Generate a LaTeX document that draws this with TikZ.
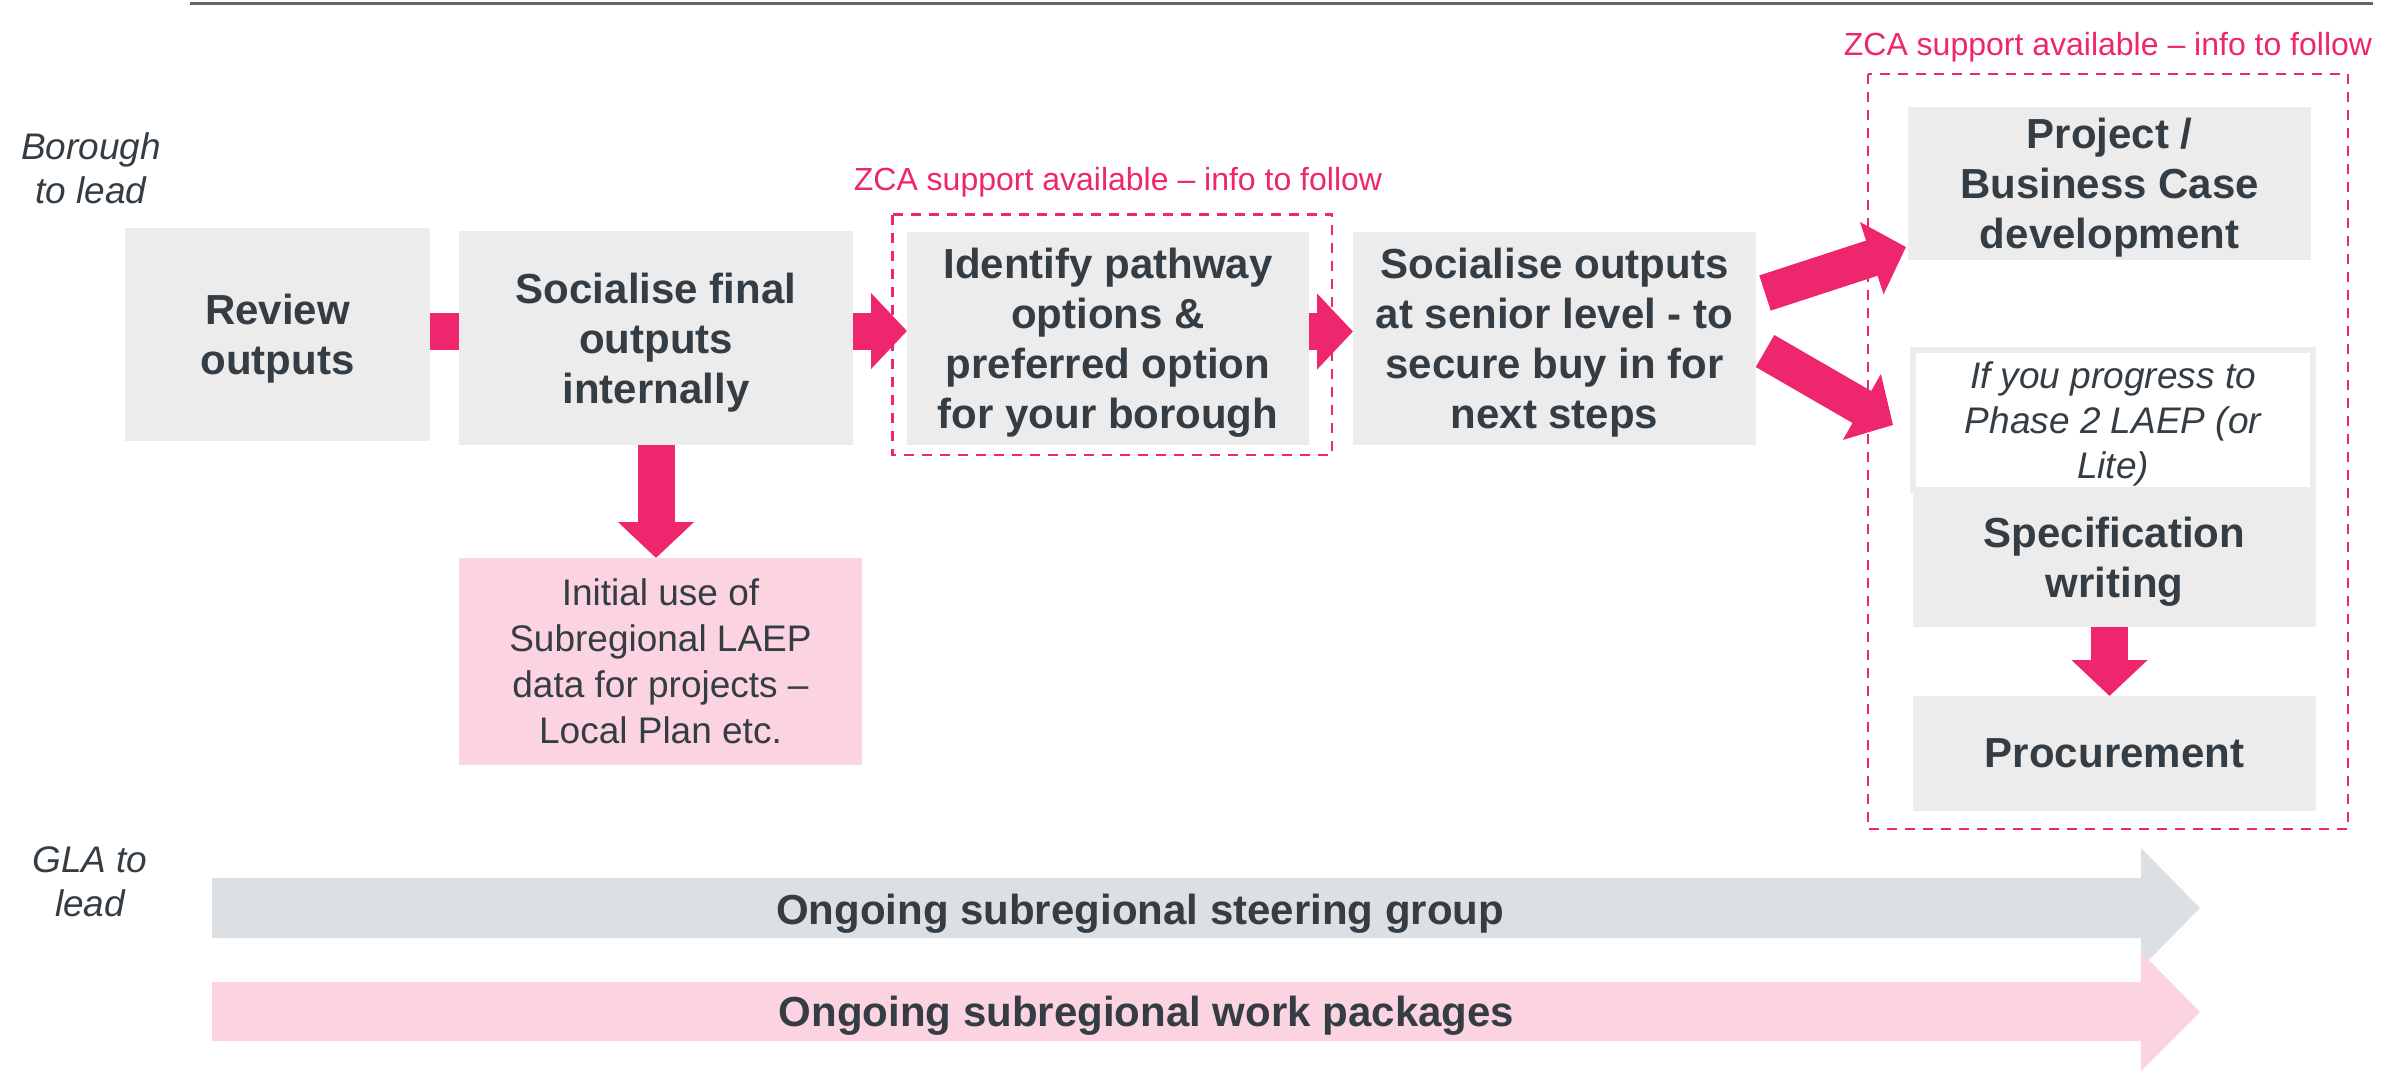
\documentclass[tikz,border=0pt]{standalone}
\usepackage{fontspec}
\setmainfont{Liberation Sans}
\usetikzlibrary{arrows.meta}

\definecolor{zmag}{RGB}{238,38,110}
\definecolor{zpink}{RGB}{252,211,224}
\definecolor{zgrey}{RGB}{236,236,236}
\definecolor{zband}{RGB}{221,224,227}
\definecolor{ztext}{RGB}{52,61,68}
\definecolor{zrule}{RGB}{95,103,109}

\tikzset{
  box/.style={fill=zgrey, text=ztext, align=center, inner sep=0pt, outer sep=0pt,
    text depth=0pt, font=\fontsize{42}{50}\selectfont\bfseries},
  blk/.style={zmag, line width=37pt, -{Triangle[width=74pt,length=36pt]}},
  zca/.style={draw=zmag, line width=2.5pt, dash pattern=on 10pt off 8pt},
  lead/.style={text=ztext, align=center, font=\fontsize{37}{44}\selectfont\itshape},
}

\begin{document}
\begin{tikzpicture}[x=1pt,y=-1pt,>=latex]
  \useasboundingbox (0,0) rectangle (2399,1074);
  \draw[zrule, line width=3pt] (190,3.5) -- (2373,3.5);

  \node[lead] (bor) at (91,168) {Borough\\to lead};
  \node[lead] (gla) at (90,882) {GLA to\\lead};

  % borough steps
  \node[box, minimum width=305, minimum height=213] (rev) at (277.5,334.5) {Review\\outputs};
  \node[box, minimum width=394, minimum height=214] (soc) at (656,338) {Socialise final\\outputs\\internally};
  \node[box, minimum width=402, minimum height=213] (idf) at (1108,338.5) {Identify pathway\\options \&\\preferred option\\for your borough};
  \node[box, minimum width=403, minimum height=213] (sen) at (1554.5,338.5) {Socialise outputs\\at senior level - to\\secure buy in for\\next steps};
  \node[box, fill=zpink, minimum width=403, minimum height=207,
    font=\fontsize{37}{46}\selectfont] (init) at (660.5,661.5) {Initial use of\\Subregional LAEP\\data for projects –\\Local Plan etc.};

  \node[box, minimum width=403, minimum height=153] (proj) at (2109.5,183.5) {Project /\\Business Case\\development};
  \node[box, fill=white, draw=zgrey, line width=6pt, minimum width=400, minimum height=140,
    font=\fontsize{37}{45}\selectfont\itshape] (prog) at (2113,420) {If you progress to\\Phase 2 LAEP (or\\Lite)};
  \node[box, minimum width=403, minimum height=140] (spec) at (2114.5,557) {Specification\\writing};
  \node[box, minimum width=403, minimum height=115] (proc) at (2114.5,753.5) {Procurement};

  % ZCA frames
  \draw[zca] (892.5,214.5) rectangle (1332,455);
  \draw[zca] (1868,74) rectangle (2348,829);
  \node[text=zmag, anchor=base, font=\fontsize{32}{38}\selectfont] (zca1) at (1118,190) {ZCA support available – info to follow};
  \node[text=zmag, anchor=base, font=\fontsize{32}{38}\selectfont] (zca2) at (2108,55) {ZCA support available – info to follow};

  % arrows between steps
  \draw[zmag, line width=37pt] ([yshift=3pt]rev.east) -- ([yshift=3pt]rev.east -| soc.west);
  \draw[blk] ([yshift=7pt]soc.east) -- ([yshift=7pt]soc.east -| idf.west);
  \draw[blk] ([yshift=7pt]idf.east) -- ([yshift=7pt]idf.east -| sen.west);
  \draw[blk] (soc.south) -- (soc.south |- init.north);
  \draw[blk] ([shift={(9,-45.5)}]sen.east) -- ([shift={(-2,-13)}]proj.south west);
  \draw[blk] ([shift={(9,12.5)}]sen.east) -- ([shift={(-20,5)}]prog.west);
  \draw[blk] ([xshift=-5pt]spec.south) -- ([xshift=-5pt]proc.north);

  % GLA bands
  \fill[zband] (212,878) -- (2141,878) -- (2141,848) -- (2200,908) -- (2141,968) -- (2141,938) -- (212,938) -- cycle;
  \fill[zpink] (212,982) -- (2141,982) -- (2141,952) -- (2200,1012) -- (2141,1071) -- (2141,1041) -- (212,1041) -- cycle;
  \node[text=ztext, anchor=base, font=\fontsize{42}{50}\selectfont\bfseries] (steer) at (1140,924) {Ongoing subregional steering group};
  \node[text=ztext, anchor=base, font=\fontsize{42}{50}\selectfont\bfseries] (work) at (1146.5,1026) {Ongoing subregional work packages};
\end{tikzpicture}
\end{document}
